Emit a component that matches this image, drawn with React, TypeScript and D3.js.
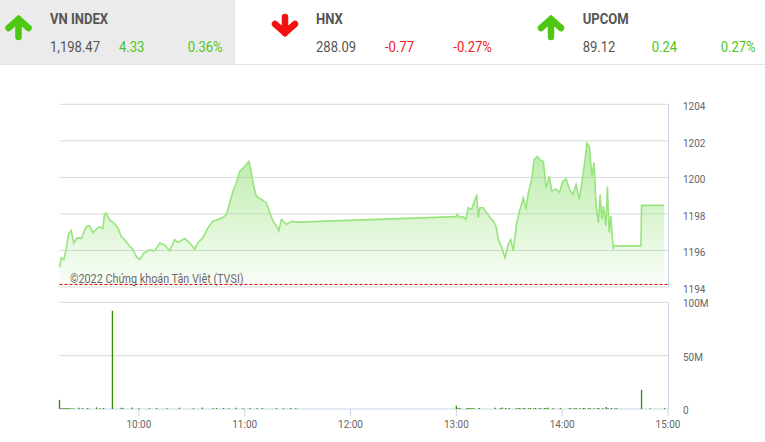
import React from 'react';
import * as d3 from 'd3';

// ---------- DATA ----------
const indexNames = ['VN INDEX', 'HNX', 'UPCOM'];
const indexValues = ['1,198.47', '288.09', '89.12'];
const indexChanges = ['4.33', '-0.77', '0.24'];
const indexPercents = ['0.36%', '-0.27%', '0.27%'];
const indexUp = [true, false, true];

const refPrice = 1194.14;
const priceTicks = [1194, 1196, 1198, 1200, 1202, 1204];
const volTicks = [0, 50, 100];
const volTickLabels = ['0', '50M', '100M'];
const timeTicks = ['10:00', '11:00', '12:00', '13:00', '14:00', '15:00'];
const sessionStart = '9:15';
const sessionEnd = '15:00';
const copyright = '©2022 Chứng khoán Tân Việt (TVSI)';

const priceTimes = [
  '9:15:00', '9:15:58', '9:17:26', '9:18:48', '9:20:07', '9:21:38', '9:23:07', '9:25:03', '9:27:19',
  '9:30:09', '9:32:02', '9:33:54', '9:35:50', '9:37:42', '9:39:35', '9:40:32', '9:41:30', '9:43:23',
  '9:45:49', '9:48:05', '9:50:01', '9:51:53', '9:54:10', '9:56:36', '9:58:32', '10:00:25', '10:02:51',
  '10:06:05', '10:08:55', '10:11:46', '10:14:36', '10:17:26', '10:20:16', '10:22:09', '10:25:57',
  '10:28:47', '10:31:38', '10:33:30', '10:36:20', '10:39:11', '10:42:01', '10:44:51', '10:47:41',
  '10:49:37', '10:51:29', '10:53:22', '10:55:18', '10:57:10', '11:00:00', '11:02:27', '11:03:49',
  '11:05:07', '11:06:39', '11:09:29', '11:12:19', '11:14:12', '11:16:04', '11:18:20', '11:19:18',
  '11:20:50', '11:23:41', '11:26:31', '11:29:21', '11:30:00',
  '13:00:00', '13:00:30', '13:02:02', '13:03:54', '13:05:27', '13:06:45', '13:08:41', '13:10:33',
  '13:11:31', '13:12:26', '13:13:23', '13:15:16', '13:17:11', '13:19:04', '13:20:56', '13:22:28',
  '13:23:47', '13:25:43', '13:27:35', '13:29:28', '13:30:49', '13:32:17', '13:34:13', '13:36:06',
  '13:37:58', '13:39:30', '13:40:49', '13:42:44', '13:44:02', '13:45:55', '13:47:27', '13:49:19',
  '13:50:52', '13:52:44', '13:54:06', '13:56:32', '13:58:25', '14:00:20', '14:02:13', '14:04:05',
  '14:06:01', '14:07:53', '14:09:46', '14:11:41', '14:12:59', '14:13:58', '14:15:26', '14:16:47',
  '14:18:06', '14:19:14', '14:20:32', '14:21:30', '14:22:28', '14:23:22', '14:24:44', '14:25:39',
  '14:26:37', '14:27:35', '14:28:29', '14:29:03', '14:29:27', '14:44:40', '14:45:00', '14:57:50',
];
const priceValues = [
  1195.07, 1195.6, 1195.5, 1196.07, 1196.9, 1197.1, 1196.4, 1196.7, 1196.65,
  1197.3, 1197.35, 1196.98, 1197.16, 1197.3, 1197.2, 1197.98, 1198.04, 1197.67,
  1197.5, 1197.25, 1196.76, 1196.6, 1196.3, 1196.07, 1195.67, 1195.5, 1195.85,
  1196.03, 1195.98, 1196.4, 1196.3, 1195.98, 1196.6, 1196.43, 1196.65,
  1196.43, 1196.07, 1196.43, 1196.7, 1197.25, 1197.6, 1197.7, 1197.8,
  1197.98, 1198.6, 1199.24, 1199.7, 1200.33, 1200.6, 1200.88, 1200.24,
  1199.5, 1198.97, 1198.8, 1198.6, 1198.07, 1197.6, 1197.3, 1197.07,
  1197.7, 1197.43, 1197.6, 1197.55, 1197.55,
  1197.85, 1197.98, 1197.8, 1197.85, 1197.7, 1198.34, 1198.25, 1198.8,
  1199.0, 1197.8, 1198.34, 1198.34, 1198.07, 1197.8, 1197.6, 1197.34,
  1196.6, 1196.16, 1195.6, 1196.34, 1196.6, 1195.98, 1197.52, 1198.25,
  1198.88, 1198.25, 1199.16, 1199.89, 1200.97, 1201.15, 1200.95, 1200.88,
  1199.43, 1200.06, 1199.24, 1199.37, 1199.16, 1199.79, 1199.92, 1199.37,
  1199.06, 1199.6, 1198.79, 1200.06, 1200.97, 1201.88, 1201.7, 1200.06,
  1200.8, 1198.43, 1197.52, 1199.06, 1197.7, 1198.43, 1197.34, 1199.5,
  1196.98, 1197.88, 1196.6, 1196.07, 1196.25, 1196.25, 1198.47, 1198.47,
];

const volTimes = [
  '9:15', '9:16', '9:17', '9:18', '9:19', '9:20', '9:21', '9:22', '9:23', '9:26', '9:28', '9:31',
  '9:36', '9:38', '9:40', '9:45', '9:50', '9:51', '9:56', '10:00', '10:06', '10:10', '10:16', '10:23',
  '10:31', '10:36', '10:42', '10:44', '10:48', '10:51', '10:55', '10:59', '11:03', '11:07', '11:10',
  '11:18', '11:22', '11:26', '11:29',
  '13:00', '13:01', '13:02', '13:06', '13:07', '13:08', '13:09', '13:10', '13:13', '13:22', '13:25',
  '13:26', '13:28', '13:30', '13:34', '13:35', '13:36', '13:38', '13:39', '13:41', '13:42', '13:44',
  '13:45', '13:47', '13:48', '13:50', '13:51', '13:52', '13:55', '13:59', '14:04', '14:05', '14:07',
  '14:08', '14:10', '14:12', '14:13', '14:15', '14:16', '14:18', '14:20', '14:21', '14:23', '14:25',
  '14:26', '14:28', '14:30', '14:31', '14:45', '14:50', '14:58',
];
const volValues = [
  8.5, 0.8, 1.0, 0.7, 0.9, 0.6, 0.8, 0.5, 0.6, 1.2, 0.8, 1.0,
  1.5, 0.8, 1.0, 92, 1.2, 0.8, 1.4, 0.8, 0.7, 1.0, 0.8, 1.2,
  0.7, 1.3, 0.8, 1.0, 0.9, 0.7, 1.2, 0.8, 1.0, 0.7, 0.9,
  0.8, 0.7, 0.9, 0.8,
  3.0, 0.8, 1.0, 0.9, 0.8, 1.0, 0.7, 0.8, 1.0, 1.2, 0.8,
  1.4, 1.0, 0.9, 0.8, 0.7, 0.9, 1.0, 0.7, 0.8, 1.0, 0.7,
  0.9, 0.8, 0.7, 1.0, 0.8, 1.2, 0.9, 1.0, 0.8, 0.7, 0.9,
  0.8, 0.7, 0.9, 0.8, 1.0, 0.7, 0.8, 0.9, 0.7, 0.8, 1.8,
  0.8, 0.9, 0.7, 0.8, 18, 0.6, 0.8,
];

// ---------- HELPERS ----------
const toMin = (s: string) => {
  const [h, m, sec] = s.split(':').map(Number);
  return h * 60 + m + (sec || 0) / 60;
};

const FONT = 'Roboto, sans-serif';

function CText(props: {
  x: number; y: number; size: number; fill: string; weight?: number | string; sx?: number;
  anchor?: 'start' | 'middle' | 'end'; children: React.ReactNode;
}) {
  const { x, y, size, fill, weight = 400, anchor = 'start', sx = 0.87, children } = props;
  return (
    <g transform={`translate(${x},${y}) scale(${sx},1)`}>
      <text x={0} y={0} fontFamily={FONT} fontSize={size} fill={fill} fontWeight={weight} textAnchor={anchor}>
        {children}
      </text>
    </g>
  );
}

function Arrow({ cx, up, color }: { cx: number; up: boolean; color: string }) {
  const d = up
    ? `M${cx - 10},${28} L${cx},${19} L${cx + 10},${28} M${cx},${19} L${cx},${37}`
    : `M${cx - 10},${24} L${cx},${33} L${cx + 10},${24} M${cx},${33} L${cx},${17}`;
  return (
    <path d={d} fill="none" stroke={color} strokeWidth={6.5} strokeLinecap="round" strokeLinejoin="miter" />
  );
}

// ---------- LAYOUT ----------
const W = 765;
const H = 442;
const PL = 59.5;
const PR = 668;
const P_TOP = 104.3;
const P_BOT = 287;
const V_TOP = 302.3;
const V_BOT = 409;

const headerX = [
  { arrow: 18.5, name: 50, val: 50, chg: 119, pct: 187.7 },
  { arrow: 285, name: 316, val: 316, chg: 385, pct: 453.3 },
  { arrow: 551, name: 582.7, val: 582.7, chg: 651.7, pct: 720.7 },
];

export default function App() {
  const x = d3.scaleLinear().domain([toMin(sessionStart), toMin(sessionEnd)]).range([PL, PR]);
  const yP = d3.scaleLinear().domain([1194, 1204]).range([P_BOT, P_TOP]);
  const yV = d3.scaleLinear().domain([0, 100]).range([V_BOT, V_TOP]);

  const pts = priceTimes.map((t, i) => ({ t: toMin(t), v: priceValues[i] }));
  const line = d3.line<{ t: number; v: number }>().x(d => x(d.t)).y(d => yP(d.v));
  const area = d3.area<{ t: number; v: number }>().x(d => x(d.t)).y0(P_BOT).y1(d => yP(d.v));

  const green = '#4cc61a';
  const red = '#f01818';
  const grid = '#d9d9d9';
  const border = '#c9d5e3';

  return (
    <svg width={W} height={H} style={{ position: 'absolute', left: 0, top: 0, background: '#fff' }}>
      <defs>
        <linearGradient id="pg" gradientUnits="userSpaceOnUse" x1={0} y1={yP(1202)} x2={0} y2={P_BOT}>
          <stop offset="0%" stopColor="rgb(140,224,110)" stopOpacity={0.62} />
          <stop offset="100%" stopColor="rgb(140,224,110)" stopOpacity={0.04} />
        </linearGradient>
      </defs>

      {/* header */}
      <rect x={0} y={0} width={235} height={64} fill="#ebebeb" />
      <line x1={0} x2={W} y1={64.5} y2={64.5} stroke="#e3e3e3" strokeWidth={1} />
      {indexNames.map((n, i) => {
        const hx = headerX[i];
        const c = indexUp[i] ? green : red;
        return (
          <g key={n}>
            <Arrow cx={hx.arrow} up={indexUp[i]} color={indexUp[i] ? '#4fc814' : '#f41010'} />
            <CText x={hx.name} y={24} size={15} fill="#555" weight={700}>{n}</CText>
            <CText x={hx.val} y={52} size={15} fill="#555">{indexValues[i]}</CText>
            <CText x={hx.chg} y={52} size={15} fill={c}>{indexChanges[i]}</CText>
            <CText x={hx.pct} y={52} size={15} fill={c}>{indexPercents[i]}</CText>
          </g>
        );
      })}

      {/* price grid */}
      {priceTicks.map(v => (
        <g key={v}>
          <line x1={PL} x2={PR} y1={yP(v)} y2={yP(v)} stroke={grid} strokeWidth={1} />
          <CText x={683} y={yP(v) + 6} size={11.5} fill="#666">{String(v)}</CText>
        </g>
      ))}
      <path d={area(pts) || ''} fill="url(#pg)" />
      <path d={line(pts) || ''} fill="none" stroke="#98e47e" strokeWidth={1.6} />
      <line x1={PL} x2={PR} y1={yP(refPrice)} y2={yP(refPrice)} stroke="#e40000" strokeWidth={1} strokeDasharray="3,2" />
      <line x1={PR + 0.5} x2={PR + 0.5} y1={P_TOP} y2={P_BOT} stroke={border} strokeWidth={1} />
      <CText x={70} y={283} size={12} sx={0.9} fill="#6a6a6a">{copyright}</CText>

      {/* volume grid */}
      {volTicks.map((v, i) => (
        <g key={v}>
          <line x1={PL} x2={PR} y1={yV(v)} y2={yV(v)} stroke={v === 0 ? border : grid} strokeWidth={1} />
          <CText x={683} y={yV(v) + 5} size={11.5} fill="#666">{volTickLabels[i]}</CText>
        </g>
      ))}
      <line x1={PR + 0.5} x2={PR + 0.5} y1={V_TOP} y2={V_BOT} stroke={border} strokeWidth={1} />
      {volTimes.map((t, i) => (
        <line key={t} x1={x(toMin(t))} x2={x(toMin(t))} y1={yV(0)} y2={yV(volValues[i])} stroke="#2e8a00" strokeWidth={1.3} />
      ))}

      {/* x axis */}
      {timeTicks.map(t => (
        <g key={t}>
          <line x1={x(toMin(t))} x2={x(toMin(t))} y1={V_BOT} y2={V_BOT + 7} stroke={border} strokeWidth={1} />
          <CText x={x(toMin(t))} y={428} size={11.5} fill="#666" anchor="middle">{t}</CText>
        </g>
      ))}
    </svg>
  );
}
